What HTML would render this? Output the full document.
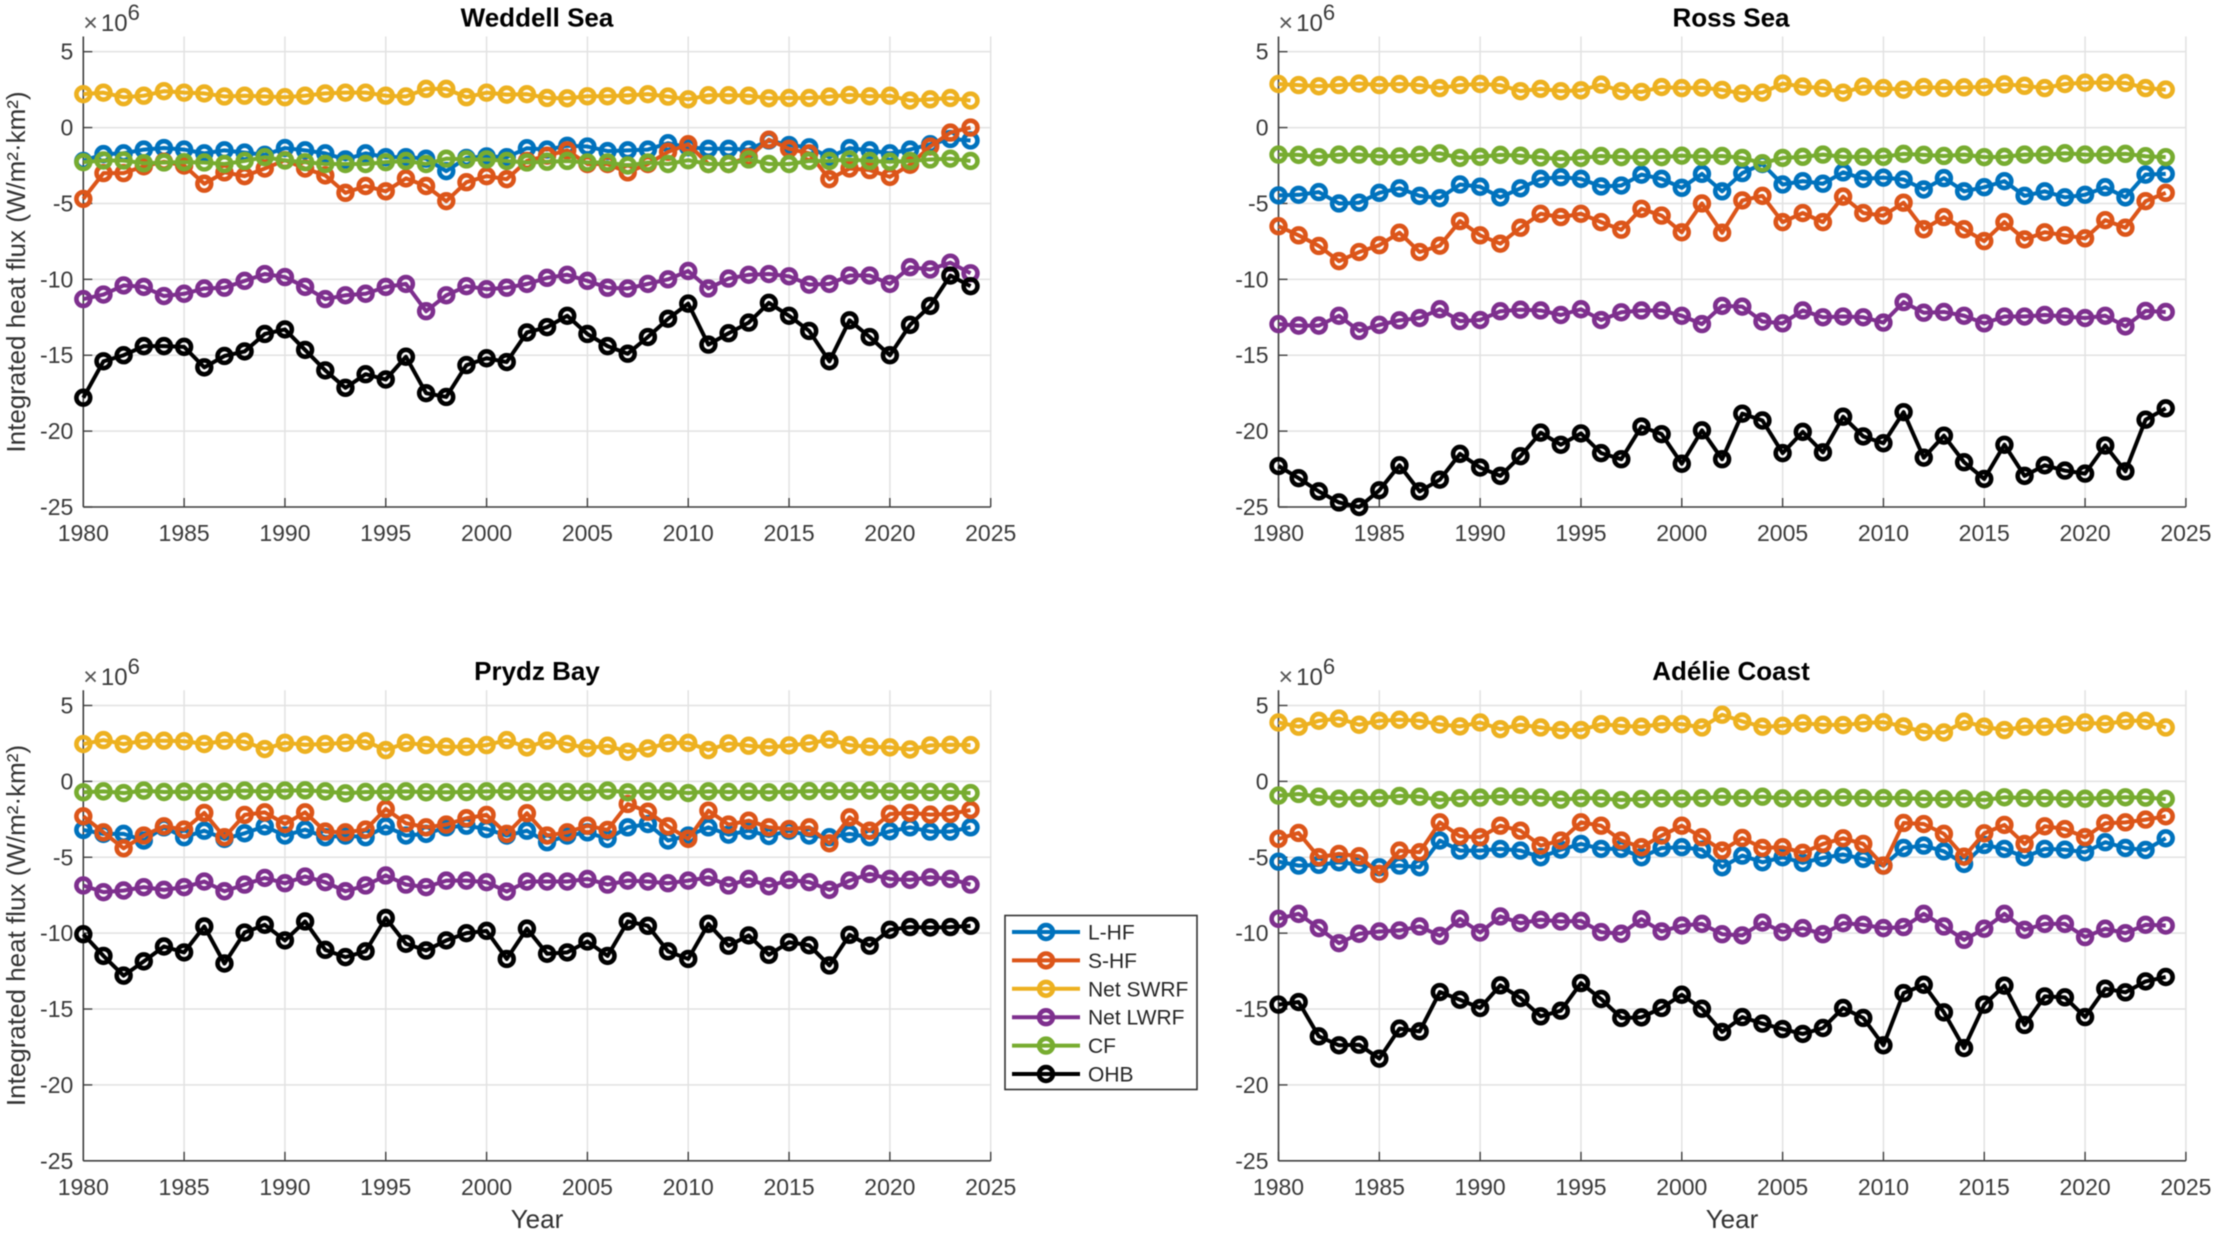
<!DOCTYPE html>
<html lang="en">
<head>
<meta charset="utf-8">
<title>Integrated heat flux by region</title>
<style>
html,body{margin:0;padding:0;background:#fff;}
body{width:2215px;height:1235px;overflow:hidden;}
svg{display:block;font-family:"Liberation Sans",Arial,sans-serif;filter:blur(0.45px);}
.tick{font-size:23px;fill:#3a3a3a;}
.ttl{font-size:26px;font-weight:bold;fill:#000;text-anchor:middle;}
.lab{font-size:26px;fill:#333;text-anchor:middle;}
.leg{font-size:21px;fill:#262626;}
</style>
</head>
<body>
<svg id="chart" width="2215" height="1235" viewBox="0 0 2215 1235" xmlns="http://www.w3.org/2000/svg">
  <rect width="2215" height="1235" fill="#fff"/>
  <g id="plots"></g>
  <text class="ttl" x="537" y="26.5">Weddell Sea</text>
  <text class="ttl" x="1731" y="26.5">Ross Sea</text>
  <text class="ttl" x="537" y="680">Prydz Bay</text>
  <text class="ttl" x="1731" y="680">Adélie Coast</text>
  <text class="lab" transform="translate(25,272) rotate(-90)">Integrated heat flux (W/m²·km²)</text>
  <text class="lab" transform="translate(25,925.5) rotate(-90)">Integrated heat flux (W/m²·km²)</text>
  <text class="lab" x="537" y="1228">Year</text>
  <text class="lab" x="1732" y="1228">Year</text>
  <g id="legend">
    <rect x="1005" y="915.5" width="192" height="174" fill="#fff" stroke="#333" stroke-width="1.6"/>
  </g>
</svg>
<script>
const years = [1980,1981,1982,1983,1984,1985,1986,1987,1988,1989,1990,1991,1992,1993,1994,1995,1996,1997,1998,1999,2000,2001,2002,2003,2004,2005,2006,2007,2008,2009,2010,2011,2012,2013,2014,2015,2016,2017,2018,2019,2020,2021,2022,2023,2024];
const xTickLabels = [1980,1985,1990,1995,2000,2005,2010,2015,2020,2025];
const yTickLabels = [5,0,-5,-10,-15,-20,-25];
const seriesNames = ["L-HF","S-HF","Net SWRF","Net LWRF","CF","OHB"];
const seriesColors = ["#0072BD","#DC5519","#EDB120","#7E2F8E","#77AC30","#000000"];

const weddellLHF = [-2.2,-1.75,-1.7,-1.45,-1.35,-1.45,-1.7,-1.5,-1.65,-1.8,-1.35,-1.5,-1.7,-2.1,-1.7,-1.95,-1.95,-2.05,-2.87,-2.0,-1.9,-1.95,-1.36,-1.45,-1.2,-1.25,-1.55,-1.5,-1.45,-1.03,-1.3,-1.4,-1.4,-1.45,-0.85,-1.15,-1.3,-1.95,-1.35,-1.5,-1.7,-1.45,-1.1,-0.75,-0.85];
const weddellSHF = [-4.7,-3.0,-3.0,-2.55,-2.25,-2.5,-3.7,-2.95,-3.2,-2.7,-2.15,-2.7,-3.15,-4.3,-3.85,-4.2,-3.35,-3.85,-4.85,-3.6,-3.2,-3.4,-2.2,-1.85,-1.5,-2.4,-2.4,-2.95,-2.4,-1.6,-1.1,-2.4,-2.4,-1.95,-0.8,-1.4,-1.7,-3.4,-2.7,-2.8,-3.25,-2.45,-1.25,-0.33,0.0];
const weddellSWRF = [2.2,2.3,2.0,2.1,2.4,2.3,2.25,2.05,2.1,2.05,2.0,2.1,2.25,2.3,2.3,2.1,2.05,2.55,2.55,2.0,2.3,2.17,2.2,1.95,1.93,2.06,2.06,2.12,2.2,2.04,1.86,2.13,2.13,2.1,1.93,1.95,1.95,2.04,2.15,2.06,2.1,1.78,1.86,1.95,1.78];
const weddellLWRF = [-11.3,-11.0,-10.4,-10.5,-11.1,-10.95,-10.6,-10.55,-10.1,-9.65,-9.85,-10.5,-11.3,-11.05,-10.95,-10.5,-10.3,-12.1,-11.05,-10.45,-10.65,-10.55,-10.3,-9.9,-9.7,-10.1,-10.55,-10.6,-10.3,-10.0,-9.45,-10.6,-9.95,-9.7,-9.65,-9.8,-10.35,-10.3,-9.75,-9.75,-10.3,-9.2,-9.35,-8.9,-9.6];
const weddellCF = [-2.28,-2.17,-2.17,-2.35,-2.3,-2.28,-2.3,-2.4,-2.2,-1.95,-2.17,-2.28,-2.4,-2.4,-2.4,-2.28,-2.2,-2.4,-2.05,-2.1,-2.1,-2.2,-2.3,-2.25,-2.2,-2.3,-2.3,-2.5,-2.3,-2.4,-2.15,-2.4,-2.4,-2.1,-2.4,-2.4,-2.2,-2.2,-2.1,-2.2,-2.25,-2.2,-2.1,-2.05,-2.2];
const weddellOHB = [-17.8,-15.4,-15.0,-14.4,-14.4,-14.45,-15.8,-15.05,-14.75,-13.6,-13.3,-14.65,-16.0,-17.15,-16.25,-16.6,-15.1,-17.5,-17.75,-15.65,-15.2,-15.45,-13.5,-13.15,-12.4,-13.6,-14.4,-14.9,-13.8,-12.6,-11.6,-14.3,-13.55,-12.85,-11.55,-12.4,-13.4,-15.4,-12.7,-13.8,-15.0,-13.0,-11.75,-9.75,-10.45];

const rossLHF = [-4.47,-4.43,-4.25,-5.0,-4.95,-4.3,-4.0,-4.5,-4.65,-3.75,-3.9,-4.6,-4.0,-3.38,-3.27,-3.38,-3.88,-3.82,-3.1,-3.38,-3.97,-3.05,-4.2,-3.0,-2.4,-3.75,-3.53,-3.7,-2.95,-3.38,-3.3,-3.42,-4.08,-3.33,-4.2,-3.93,-3.53,-4.5,-4.2,-4.6,-4.43,-3.93,-4.6,-3.1,-3.05];
const rossSHF = [-6.5,-7.1,-7.8,-8.8,-8.2,-7.75,-6.93,-8.2,-7.78,-6.16,-7.1,-7.65,-6.6,-5.68,-5.9,-5.68,-6.23,-6.73,-5.35,-5.8,-6.9,-5.0,-6.93,-4.8,-4.5,-6.23,-5.63,-6.23,-4.55,-5.63,-5.8,-4.95,-6.7,-5.9,-6.7,-7.48,-6.23,-7.37,-6.9,-7.1,-7.3,-6.1,-6.6,-4.85,-4.3];
const rossSWRF = [2.87,2.8,2.72,2.8,2.9,2.8,2.87,2.8,2.6,2.8,2.87,2.8,2.4,2.55,2.4,2.45,2.83,2.4,2.35,2.67,2.6,2.63,2.48,2.25,2.3,2.9,2.7,2.6,2.3,2.7,2.6,2.5,2.67,2.6,2.65,2.67,2.85,2.75,2.6,2.87,2.96,2.96,2.94,2.6,2.5];
const rossLWRF = [-12.95,-13.05,-13.05,-12.4,-13.4,-13.0,-12.7,-12.55,-11.97,-12.75,-12.68,-12.1,-12.0,-12.05,-12.35,-11.97,-12.68,-12.17,-12.05,-12.05,-12.4,-12.95,-11.75,-11.8,-12.78,-12.9,-12.05,-12.5,-12.45,-12.5,-12.85,-11.5,-12.2,-12.15,-12.4,-12.9,-12.45,-12.45,-12.35,-12.45,-12.55,-12.4,-13.1,-12.08,-12.15];
const rossCF = [-1.78,-1.8,-1.95,-1.78,-1.78,-1.9,-1.9,-1.8,-1.7,-2.0,-1.93,-1.8,-1.85,-1.97,-2.08,-2.0,-1.87,-1.95,-1.95,-1.95,-1.85,-1.93,-1.87,-2.0,-2.35,-2.0,-1.93,-1.78,-1.93,-1.93,-1.93,-1.73,-1.8,-1.87,-1.78,-1.95,-1.93,-1.78,-1.8,-1.69,-1.78,-1.8,-1.73,-1.89,-1.95];
const rossOHB = [-22.3,-23.1,-23.97,-24.7,-25.0,-23.9,-22.25,-23.97,-23.2,-21.5,-22.4,-22.95,-21.65,-20.1,-20.9,-20.15,-21.45,-21.85,-19.7,-20.2,-22.15,-19.95,-21.85,-18.85,-19.3,-21.45,-20.05,-21.4,-19.05,-20.35,-20.8,-18.75,-21.75,-20.3,-22.05,-23.15,-20.9,-22.95,-22.25,-22.6,-22.8,-20.95,-22.65,-19.25,-18.5];

const prydzLHF = [-3.2,-3.46,-3.46,-3.9,-3.03,-3.68,-3.25,-3.79,-3.42,-2.96,-3.57,-3.18,-3.68,-3.57,-3.68,-2.96,-3.57,-3.46,-3.03,-2.92,-3.14,-3.57,-3.25,-4.01,-3.57,-3.36,-3.79,-3.03,-2.81,-3.9,-3.57,-3.03,-3.51,-3.25,-3.6,-3.25,-3.57,-3.68,-3.46,-3.68,-3.29,-3.03,-3.31,-3.31,-3.03];
const prydzSHF = [-2.3,-3.36,-4.41,-3.57,-2.96,-3.18,-2.08,-3.68,-2.21,-2.04,-2.81,-2.04,-3.31,-3.36,-3.18,-1.82,-2.76,-3.03,-2.85,-2.43,-2.21,-3.46,-2.1,-3.57,-3.36,-2.92,-3.2,-1.49,-2.0,-2.96,-3.79,-1.93,-2.85,-2.59,-3.03,-3.14,-3.03,-4.08,-2.37,-3.25,-2.15,-2.08,-2.19,-2.15,-1.89];
const prydzSWRF = [2.46,2.72,2.46,2.68,2.68,2.65,2.46,2.68,2.61,2.13,2.54,2.41,2.46,2.54,2.65,2.06,2.54,2.39,2.28,2.28,2.39,2.72,2.24,2.68,2.46,2.19,2.35,1.95,2.17,2.52,2.54,2.06,2.5,2.35,2.24,2.37,2.5,2.76,2.39,2.28,2.24,2.1,2.37,2.41,2.39];
const prydzLWRF = [-6.86,-7.3,-7.19,-6.97,-7.15,-6.97,-6.6,-7.24,-6.8,-6.36,-6.71,-6.27,-6.64,-7.24,-6.86,-6.2,-6.8,-6.97,-6.54,-6.54,-6.64,-7.26,-6.6,-6.6,-6.6,-6.43,-6.8,-6.54,-6.6,-6.71,-6.54,-6.32,-6.86,-6.43,-6.91,-6.49,-6.64,-7.15,-6.54,-6.1,-6.43,-6.49,-6.32,-6.43,-6.8];
const prydzCF = [-0.72,-0.66,-0.77,-0.61,-0.7,-0.68,-0.7,-0.68,-0.61,-0.68,-0.61,-0.59,-0.66,-0.79,-0.7,-0.7,-0.66,-0.72,-0.72,-0.7,-0.66,-0.66,-0.7,-0.68,-0.7,-0.7,-0.61,-0.72,-0.66,-0.66,-0.77,-0.66,-0.7,-0.68,-0.72,-0.68,-0.64,-0.64,-0.64,-0.61,-0.68,-0.66,-0.7,-0.7,-0.77];
const prydzOHB = [-10.07,-11.5,-12.8,-11.86,-10.88,-11.27,-9.56,-12.0,-9.96,-9.45,-10.48,-9.23,-11.1,-11.58,-11.2,-9.0,-10.7,-11.14,-10.48,-10.0,-9.85,-11.7,-9.7,-11.36,-11.27,-10.55,-11.5,-9.23,-9.52,-11.2,-11.7,-9.39,-10.83,-10.15,-11.43,-10.6,-10.8,-12.13,-10.11,-10.83,-9.78,-9.6,-9.63,-9.6,-9.52];

const adelieLHF = [-5.29,-5.55,-5.5,-5.33,-5.48,-5.66,-5.55,-5.66,-3.9,-4.56,-4.56,-4.45,-4.56,-5.0,-4.5,-4.12,-4.45,-4.45,-5.0,-4.39,-4.34,-4.5,-5.66,-4.89,-5.33,-5.0,-5.37,-5.04,-4.82,-5.11,-5.55,-4.39,-4.23,-4.61,-5.44,-4.19,-4.45,-5.0,-4.45,-4.5,-4.67,-4.01,-4.39,-4.52,-3.75];
const adelieSHF = [-3.79,-3.4,-5.0,-4.78,-4.93,-6.1,-4.56,-4.67,-2.7,-3.62,-3.68,-2.92,-3.25,-4.23,-3.9,-2.7,-2.92,-3.9,-4.34,-3.57,-2.92,-3.68,-4.56,-3.73,-4.39,-4.34,-4.71,-4.12,-3.75,-4.12,-5.55,-2.74,-2.81,-3.46,-4.96,-3.42,-2.87,-4.12,-2.96,-3.14,-3.68,-2.76,-2.7,-2.52,-2.3];
const adelieSWRF = [3.88,3.6,3.99,4.14,3.73,3.99,4.06,3.99,3.75,3.62,3.88,3.44,3.73,3.55,3.38,3.38,3.77,3.66,3.6,3.77,3.77,3.55,4.39,3.95,3.6,3.66,3.82,3.73,3.71,3.84,3.9,3.62,3.25,3.22,3.93,3.6,3.38,3.6,3.6,3.73,3.88,3.77,3.99,3.99,3.55];
const adelieLWRF = [-9.06,-8.73,-9.67,-10.66,-10.04,-9.89,-9.82,-9.56,-10.18,-9.06,-9.96,-8.9,-9.34,-9.12,-9.23,-9.19,-9.93,-10.04,-9.08,-9.89,-9.5,-9.39,-10.07,-10.15,-9.3,-9.93,-9.67,-10.07,-9.34,-9.45,-9.67,-9.6,-8.73,-9.56,-10.44,-9.71,-8.73,-9.78,-9.39,-9.39,-10.26,-9.71,-10.0,-9.45,-9.5];
const adelieCF = [-0.94,-0.83,-1.01,-1.14,-1.1,-1.1,-0.96,-1.01,-1.23,-1.1,-1.07,-0.99,-1.01,-1.07,-1.21,-1.1,-1.12,-1.23,-1.16,-1.12,-1.14,-1.1,-1.01,-1.1,-1.01,-1.12,-1.12,-1.1,-1.05,-1.1,-1.1,-1.1,-1.16,-1.16,-1.14,-1.23,-1.05,-1.1,-1.1,-1.14,-1.14,-1.1,-1.05,-1.07,-1.16];
const adelieOHB = [-14.71,-14.54,-16.8,-17.39,-17.35,-18.27,-16.29,-16.47,-13.88,-14.39,-14.93,-13.44,-14.28,-15.48,-15.11,-13.29,-14.34,-15.59,-15.55,-14.93,-14.06,-14.98,-16.51,-15.53,-15.96,-16.32,-16.64,-16.25,-14.93,-15.59,-17.39,-13.95,-13.4,-15.22,-17.57,-14.71,-13.46,-16.05,-14.17,-14.23,-15.53,-13.66,-13.9,-13.18,-12.89];

const panelNames = ["weddell-sea","ross-sea","prydz-bay","adelie-coast"];
const panelSeries = [
  [weddellLHF,weddellSHF,weddellSWRF,weddellLWRF,weddellCF,weddellOHB],
  [rossLHF,rossSHF,rossSWRF,rossLWRF,rossCF,rossOHB],
  [prydzLHF,prydzSHF,prydzSWRF,prydzLWRF,prydzCF,prydzOHB],
  [adelieLHF,adelieSHF,adelieSWRF,adelieLWRF,adelieCF,adelieOHB]
];

const NS = "http://www.w3.org/2000/svg";
const X_MIN = 1980, X_MAX = 2025, Y_MIN = -25, Y_MAX = 6;
const plotW = 907.4, plotH = 470.5;
const origins = [[83.3,36.5],[1278.5,36.5],[83.3,690.3],[1278.5,690.3]];

function make(tag, attrs, parent) {
  const el = document.createElementNS(NS, tag);
  for (const k in attrs) el.setAttribute(k, attrs[k]);
  parent.appendChild(el);
  return el;
}

function drawPanel(index) {
  const left = origins[index][0], top = origins[index][1];
  const xScale = function (v) { return left + (v - X_MIN) / (X_MAX - X_MIN) * plotW; };
  const yScale = function (v) { return top + (Y_MAX - v) / (Y_MAX - Y_MIN) * plotH; };
  const name = panelNames[index];
  const root = document.getElementById("plots");
  const g = make("g", {}, root);
  
  

  xTickLabels.forEach(function (t) {
    const x = xScale(t);
    const grid = make("line", {x1:x, x2:x, y1:top, y2:top + plotH, stroke:"#e2e2e2", "stroke-width":1.5}, g);
    
    
  });
  yTickLabels.forEach(function (t) {
    const y = yScale(t);
    const grid = make("line", {x1:left, x2:left + plotW, y1:y, y2:y, stroke:"#e2e2e2", "stroke-width":1.5}, g);
    
    
  });

  const yAxis = make("line", {x1:left, x2:left, y1:top, y2:top + plotH, stroke:"#404040", "stroke-width":1.6}, g);
  
  
  const xAxis = make("line", {x1:left, x2:left + plotW, y1:top + plotH, y2:top + plotH, stroke:"#404040", "stroke-width":1.6}, g);
  
  

  xTickLabels.forEach(function (t) {
    const x = xScale(t);
    const mark = make("line", {x1:x, x2:x, y1:top + plotH, y2:top + plotH - 9, stroke:"#404040", "stroke-width":1.4}, g);
    
    
    const label = make("text", {x:x, y:top + plotH + 34, "text-anchor":"middle", "class":"tick"}, g);
    
    
    label.textContent = t;
  });
  yTickLabels.forEach(function (t) {
    const y = yScale(t);
    const mark = make("line", {x1:left, x2:left + 9, y1:y, y2:y, stroke:"#404040", "stroke-width":1.4}, g);
    
    
    const label = make("text", {x:left - 10, y:y + 8, "text-anchor":"end", "class":"tick"}, g);
    
    
    label.textContent = t;
  });

  const mult = make("text", {x:left, y:top - 5.5, "class":"tick"}, g);
  
  
  const t1 = make("tspan", {fill:"#555", "font-size":"25"}, mult);
  t1.textContent = "×";
  const t2 = make("tspan", {dx:"3", "font-size":"24"}, mult);
  t2.textContent = "10";
  const t3 = make("tspan", {dy:"-11", "font-size":"22"}, mult);
  t3.textContent = "6";

  panelSeries[index].forEach(function (values, s) {
    const sg = make("g", {}, g);
    
    
    const pts = values.map(function (v, i) { return xScale(years[i]).toFixed(2) + "," + yScale(v).toFixed(2); }).join(" ");
    const line = make("polyline", {points:pts, fill:"none", stroke:seriesColors[s], "stroke-width":4, "stroke-linejoin":"round"}, sg);
    
    
    values.forEach(function (v, i) {
      const point = make("circle", {cx:xScale(years[i]), cy:yScale(v), r:6.9, fill:"none", stroke:seriesColors[s], "stroke-width":4.6}, sg);
      
      
    });
  });
}

function drawLegend() {
  const lg = document.getElementById("legend");
  seriesNames.forEach(function (label, s) {
    const y = 932 + s * 28.4;
    const row = make("g", {}, lg);
    
    
    const line = make("line", {x1:1012, x2:1080, y1:y, y2:y, stroke:seriesColors[s], "stroke-width":4}, row);
    
    
    const marker = make("circle", {cx:1046, cy:y, r:6.9, fill:"none", stroke:seriesColors[s], "stroke-width":4.6}, row);
    
    
    const text = make("text", {x:1088, y:y + 7.5, "class":"leg"}, row);
    
    
    text.textContent = label;
  });
}

panelNames.forEach(function (n, i) { drawPanel(i); });
drawLegend();
</script>
</body>
</html>
